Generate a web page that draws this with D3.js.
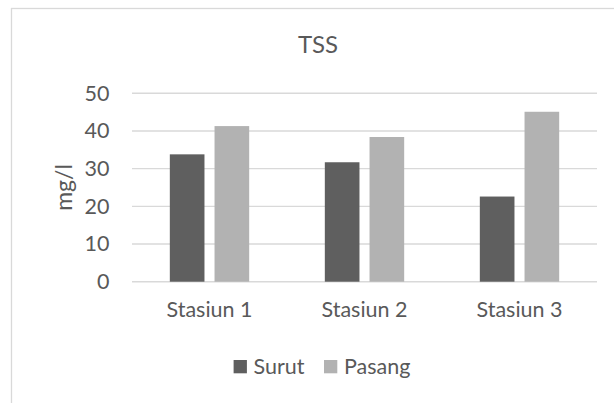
<!DOCTYPE html>
<html>
<head>
<meta charset="utf-8">
<script src="https://cdn.jsdelivr.net/npm/d3@7"></script>
<style>
  html, body { margin: 0; padding: 0; background: #ffffff; }
  svg { display: block; }
  text { font-family: Lato, "Open Sans", sans-serif; fill: #595959; }
</style>
</head>
<body>
<script>
// TSS per station, low tide (Surut) and high tide (Pasang), in mg/l
const stations = ["Stasiun 1", "Stasiun 2", "Stasiun 3"];
const seriesNames = ["Surut", "Pasang"];
const surut = [33.8, 31.7, 22.6];
const pasang = [41.3, 38.4, 45.1];
const yTicks = [0, 10, 20, 30, 40, 50];
const seriesColors = ["#5f5f5f", "#b2b2b2"];

const W = 614, H = 403;
const plot = { left: 132, right: 597, top: 93.3, bottom: 281.7 };

const svg = d3.select("body").append("svg")
  .attr("width", W).attr("height", H);

// chart area frame (extends past the right and bottom edges)
svg.append("rect")
  .attr("x", 11.5).attr("y", 8.5)
  .attr("width", 640).attr("height", 420)
  .attr("fill", "#ffffff")
  .attr("stroke", "#d9d9d9").attr("stroke-width", 1.3);

const x0 = d3.scaleBand()
  .domain(stations)
  .range([plot.left, plot.right])
  .paddingInner(0.488)
  .paddingOuter(0.244);

const x1 = d3.scaleBand()
  .domain(seriesNames)
  .range([0, x0.bandwidth()])
  .paddingInner(0.225);

const y = d3.scaleLinear()
  .domain([0, 50])
  .range([plot.bottom, plot.top]);

// horizontal gridlines
svg.append("g")
  .selectAll("line")
  .data(yTicks)
  .join("line")
  .attr("x1", plot.left).attr("x2", plot.right)
  .attr("y1", d => y(d)).attr("y2", d => y(d))
  .attr("stroke", "#d9d9d9").attr("stroke-width", 1.4);

// value axis labels
const yAxis = d3.axisLeft(y).tickValues(yTicks).tickSize(0).tickPadding(0);
const yg = svg.append("g")
  .attr("transform", `translate(${109.5},0)`)
  .call(yAxis);
yg.select(".domain").remove();
yg.selectAll("text")
  .attr("font-size", 21.5)
  .attr("font-family", "Lato, 'Open Sans', sans-serif")
  .attr("fill", "#595959");

// bars
const rows = stations.map((s, i) => ({ station: s, values: [surut[i], pasang[i]] }));
svg.append("g")
  .selectAll("g")
  .data(rows)
  .join("g")
  .attr("transform", d => `translate(${x0(d.station)},0)`)
  .selectAll("rect")
  .data(d => d.values.map((v, j) => ({ series: seriesNames[j], value: v, j })))
  .join("rect")
  .attr("x", d => x1(d.series))
  .attr("width", x1.bandwidth())
  .attr("y", d => y(d.value))
  .attr("height", d => y(0) - y(d.value))
  .attr("fill", d => seriesColors[d.j]);

// category axis labels
const xAxis = d3.axisBottom(x0).tickSize(0).tickPadding(0);
const xg = svg.append("g")
  .attr("transform", `translate(0,${plot.bottom})`)
  .call(xAxis);
xg.select(".domain").remove();
xg.selectAll("text")
  .attr("y", 35)
  .attr("dy", 0)
  .attr("font-size", 21.5)
  .attr("font-family", "Lato, 'Open Sans', sans-serif")
  .attr("fill", "#595959");

// title
svg.append("text")
  .attr("x", 318).attr("y", 53.3)
  .attr("text-anchor", "middle")
  .attr("font-size", 24)
  .text("TSS");

// value axis title
svg.append("text")
  .attr("transform", `translate(${72},${(plot.top + plot.bottom) / 2}) rotate(-90)`)
  .attr("text-anchor", "middle")
  .attr("font-size", 23)
  .text("mg/l");

// legend
const legendItems = [
  { name: seriesNames[0], color: seriesColors[0], x: 233.6 },
  { name: seriesNames[1], color: seriesColors[1], x: 324 }
];
const lg = svg.append("g");
lg.selectAll("rect")
  .data(legendItems)
  .join("rect")
  .attr("x", d => d.x).attr("y", 360)
  .attr("width", 13.3).attr("height", 13.3)
  .attr("fill", d => d.color);
lg.selectAll("text")
  .data(legendItems)
  .join("text")
  .attr("x", d => d.x + 20).attr("y", 374.3)
  .attr("font-size", 21.5)
  .text(d => d.name);
</script>
</body>
</html>
